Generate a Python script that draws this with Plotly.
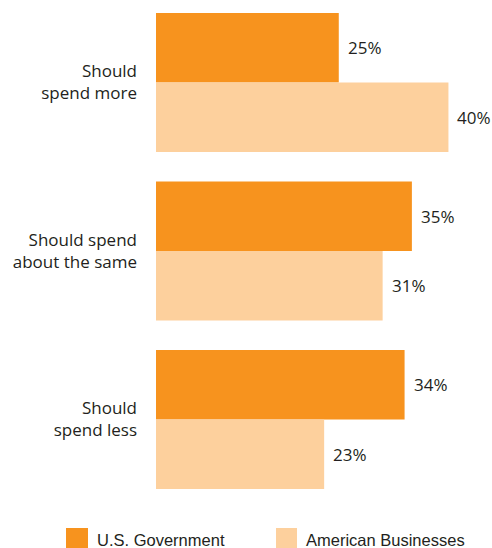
import plotly.graph_objects as go

# Survey responses
categories = ["Should spend more", "Should spend about the same", "Should spend less"]
tick_labels = ["Should<br>spend more", "Should spend<br>about the same", "Should<br>spend less"]
us_government = [25, 35, 34]
american_businesses = [40, 31, 23]

series_names = ["U.S. Government", "American Businesses"]
colors = ["#F7931E", "#FDD09D"]
text_color = "#231F20"

W, H = 492, 548
M_L, M_R, M_T, M_B = 156, 7, 0, 43
plot_w = W - M_L - M_R
plot_h = H - M_T - M_B

# category pitch and offset in pixels
pitch = 168.5
first_center = 82.5
y_top = -first_center / pitch
y_bottom = y_top + plot_h / pitch


def px_x(px):
    return (px - M_L) / plot_w


def px_y(py):
    return 1 - (py - M_T) / plot_h


fig = go.Figure()
for name, vals, col in zip(series_names, [us_government, american_businesses], colors):
    fig.add_trace(go.Bar(
        y=categories, x=vals, orientation="h", name=name,
        marker=dict(color=col, line=dict(width=0)),
        showlegend=False, hoverinfo="x+name",
    ))

# value labels at the end of each bar
offsets = [-0.5, 0.5]
bar_frac = (1 - 0.175) / 2
for k, vals in enumerate([us_government, american_businesses]):
    for i, v in enumerate(vals):
        fig.add_annotation(
            x=v, y=i + offsets[k] * bar_frac, xref="x", yref="y",
            text=f"{v}%", showarrow=False, xanchor="left", yanchor="middle",
            xshift=7, font=dict(family="Open Sans", size=17, color=text_color),
        )

# legend
legend_items = [(66, 88, 95), (276, 297, 304)]
for (x0, x1, tx), name, col in zip(legend_items, series_names, colors):
    fig.add_shape(type="rect", xref="paper", yref="paper",
                  x0=px_x(x0), x1=px_x(x1), y0=px_y(528), y1=px_y(552),
                  fillcolor=col, line=dict(width=0), layer="above")
    fig.add_annotation(x=px_x(tx), y=px_y(539.5), xref="paper", yref="paper",
                       text=name, showarrow=False, xanchor="left", yanchor="middle",
                       font=dict(family="Liberation Sans, Arial", size=16.5, color=text_color))

fig.update_layout(
    width=W, height=H,
    margin=dict(l=M_L, r=M_R, t=M_T, b=M_B, pad=0),
    paper_bgcolor="white", plot_bgcolor="white",
    barmode="group", bargap=0.175, bargroupgap=0,
    xaxis=dict(range=[0, 45], visible=False, fixedrange=True),
    yaxis=dict(
        type="category", range=[y_bottom, y_top],
        tickvals=categories, ticktext=tick_labels,
        showgrid=False, zeroline=False, showline=False, ticks="",
        ticklabelstandoff=18,
        tickfont=dict(family="Open Sans", size=17, color=text_color),
        fixedrange=True,
    ),
)

fig.write_html("out.html")
